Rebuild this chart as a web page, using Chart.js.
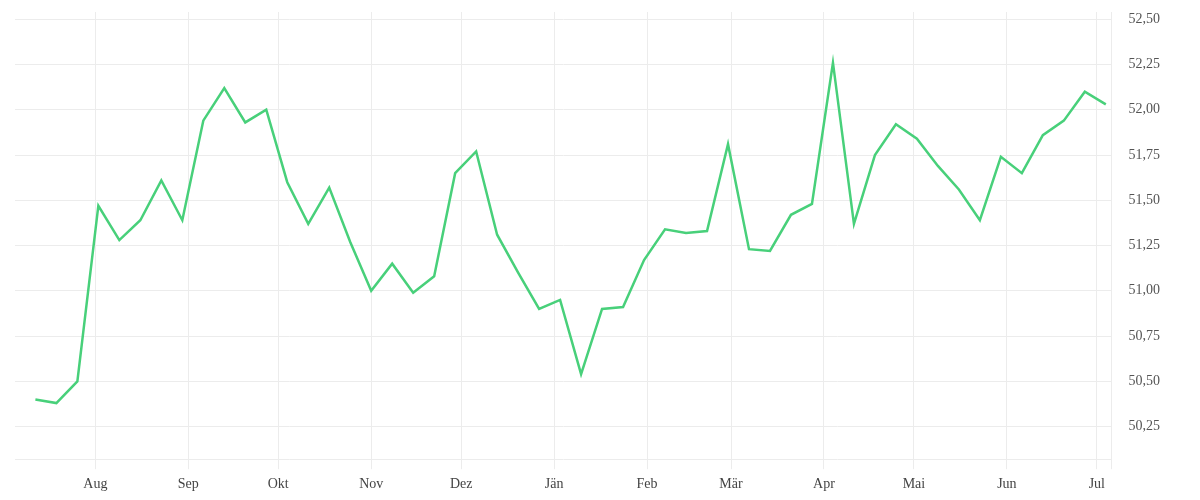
<!DOCTYPE html>
<html>
<head>
<meta charset="utf-8">
<script src="https://cdn.jsdelivr.net/npm/chart.js@4.4.1/dist/chart.umd.min.js"></script>
<style>
  html, body { margin: 0; padding: 0; background: #fff; }
  #wrap { width: 1200px; height: 500px; }
</style>
</head>
<body>
<div id="wrap"><canvas id="priceChart"></canvas></div>
<script>
const dates = [
    '2022-07-12', '2022-07-19', '2022-07-26', '2022-08-02', '2022-08-09', '2022-08-16', '2022-08-23', '2022-08-30',
    '2022-09-06', '2022-09-13', '2022-09-20', '2022-09-27', '2022-10-04', '2022-10-11', '2022-10-18', '2022-10-25',
    '2022-11-01', '2022-11-08', '2022-11-15', '2022-11-22', '2022-11-29', '2022-12-06', '2022-12-13', '2022-12-20',
    '2022-12-27', '2023-01-03', '2023-01-10', '2023-01-17', '2023-01-24', '2023-01-31', '2023-02-07', '2023-02-14',
    '2023-02-21', '2023-02-28', '2023-03-07', '2023-03-14', '2023-03-21', '2023-03-28', '2023-04-04', '2023-04-11',
    '2023-04-18', '2023-04-25', '2023-05-02', '2023-05-09', '2023-05-16', '2023-05-23', '2023-05-30', '2023-06-06',
    '2023-06-13', '2023-06-20', '2023-06-27', '2023-07-04'
];
const values = [
    50.40, 50.38, 50.50, 51.47, 51.28, 51.39, 51.61, 51.39,
    51.94, 52.12, 51.93, 52.00, 51.60, 51.37, 51.57, 51.27,
    51.00, 51.15, 50.99, 51.08, 51.65, 51.77, 51.31, 51.10,
    50.90, 50.95, 50.54, 50.90, 50.91, 51.17, 51.34, 51.32,
    51.33, 51.81, 51.23, 51.22, 51.42, 51.48, 52.26, 51.37,
    51.75, 51.92, 51.84, 51.69, 51.56, 51.39, 51.74, 51.65,
    51.86, 51.94, 52.10, 52.03
];
const monthDates = ['2022-08-01', '2022-09-01', '2022-10-01', '2022-11-01', '2022-12-01', '2023-01-01',
    '2023-02-01', '2023-03-01', '2023-04-01', '2023-05-01', '2023-06-01', '2023-07-01'];
const monthLabels = ['Aug', 'Sep', 'Okt', 'Nov', 'Dez', 'Jän', 'Feb', 'Mär', 'Apr', 'Mai', 'Jun', 'Jul'];
const yTicks = [50.25, 50.50, 50.75, 51.00, 51.25, 51.50, 51.75, 52.00, 52.25, 52.50];

const toDay = s => Date.UTC(+s.slice(0, 4), +s.slice(5, 7) - 1, +s.slice(8, 10)) / 86400000;

const xMin = toDay('2022-07-05') + 0.2;
const xMax = toDay('2023-07-05') + 0.9;
const gridColor = '#ececec';
const labelFont = { family: '"Liberation Serif", serif', size: 14 };

const points = dates.map((d, i) => ({ x: toDay(d), y: values[i] }));
const monthDays = monthDates.map(toDay);

const ctx = document.getElementById('priceChart').getContext('2d');
new Chart(ctx, {
    type: 'line',
    data: {
        datasets: [{
            data: points,
            borderColor: '#48d07a',
            borderWidth: 2.5,
            pointRadius: 0,
            tension: 0,
            fill: false
        }]
    },
    options: {
        responsive: true,
        maintainAspectRatio: false,
        animation: false,
        layout: { padding: { left: 15, top: 12, right: 40, bottom: 0 } },
        plugins: {
            legend: { display: false },
            tooltip: { enabled: false }
        },
        scales: {
            x: {
                type: 'linear',
                min: xMin,
                max: xMax,
                afterBuildTicks: axis => {
                    axis.ticks = monthDays.map(v => ({ value: v })).concat([{ value: xMax }]);
                },
                grid: { color: gridColor, drawTicks: true, tickLength: 10, tickColor: gridColor },
                border: { display: true, color: gridColor },
                ticks: {
                    padding: 7,
                    color: '#444',
                    font: labelFont,
                    maxRotation: 0,
                    autoSkip: false,
                    callback: value => {
                        const i = monthDays.indexOf(value);
                        return i >= 0 ? monthLabels[i] : '';
                    }
                }
            },
            y: {
                position: 'right',
                min: 50.07,
                max: 52.54,
                afterBuildTicks: axis => {
                    axis.ticks = yTicks.map(v => ({ value: v }));
                },
                // transparent tick marks stand in for the gap before the labels
                grid: { color: gridColor, drawTicks: true, tickLength: 17, tickColor: 'rgba(0,0,0,0)' },
                border: { display: false },
                ticks: {
                    padding: 0,
                    color: '#555',
                    font: labelFont,
                    callback: value => value.toFixed(2).replace('.', ',')
                }
            }
        }
    }
});
</script>
</body>
</html>
